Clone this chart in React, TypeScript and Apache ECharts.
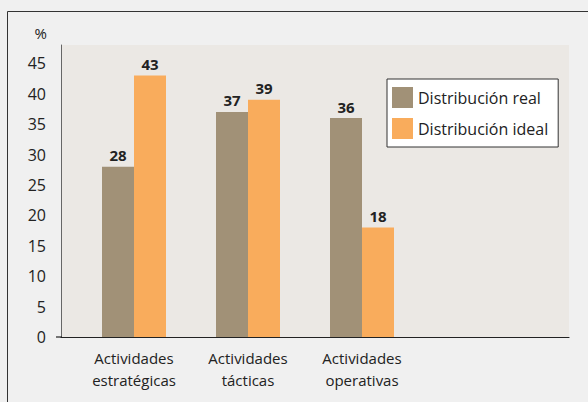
import React, { useEffect, useRef } from "react";
import * as echarts from "echarts";

const categories = ["Actividades\nestratégicas", "Actividades\ntácticas", "Actividades\noperativas"];
const seriesNames = ["Distribución real", "Distribución ideal"];
const realValues = [28, 37, 36];
const idealValues = [43, 39, 18];
const yMin = 0;
const yMax = 48;
const yInterval = 5;

const FONT = "Open Sans";

export default function App() {
  const ref = useRef<HTMLDivElement>(null);
  useEffect(() => {
    if (!ref.current) return;
    const chart = echarts.init(ref.current, undefined, { renderer: "svg" });
    const gridTop = 45;
    const gridBottom = 65;
    chart.setOption({
      animation: false,
      backgroundColor: "#f0f0f0",
      textStyle: { fontFamily: FONT },
      graphic: [
        {
          type: "rect",
          shape: { x: 7.5, y: 11.5, width: 620, height: 420 },
          style: { fill: "none", stroke: "#333", lineWidth: 1 },
          silent: true,
          z: 0,
        },
        {
          type: "line",
          shape: { x1: 56, y1: 337, x2: 62, y2: 337 },
          style: { stroke: "#222", lineWidth: 1.2 },
          silent: true,
          z: 10,
        },
      ],
      grid: [
        {
          left: 61,
          right: 19,
          top: gridTop,
          bottom: gridBottom,
          show: true,
          backgroundColor: "#ebe8e4",
          borderWidth: 0,
        },
        {
          left: 77,
          width: 342,
          top: gridTop,
          bottom: gridBottom,
        },
      ],
      xAxis: [
        {
          gridIndex: 0,
          type: "value",
          min: 0,
          max: 1,
          axisLine: { show: true, lineStyle: { color: "#222", width: 1.2 } },
          axisTick: { show: false },
          axisLabel: { show: false },
          splitLine: { show: false },
        },
        {
          gridIndex: 1,
          type: "category",
          data: categories,
          axisLine: { show: false },
          axisTick: { show: false },
          axisLabel: {
            margin: 10,
            color: "#222",
            fontSize: 15,
            lineHeight: 22,
            fontFamily: FONT,
          },
        },
      ],
      yAxis: [
        {
          gridIndex: 0,
          type: "value",
          min: yMin,
          max: yMax,
          interval: yInterval,
          name: "%",
          nameLocation: "end",
          nameGap: 5,
          nameTextStyle: { color: "#222", fontSize: 15, align: "right", padding: [0, 14, 0, 0], fontFamily: FONT },
          axisLine: { show: true, lineStyle: { color: "#666", width: 1 } },
          axisTick: { show: false },
          axisLabel: { color: "#222", fontSize: 16, margin: 15, showMaxLabel: false, fontFamily: FONT },
          splitLine: { show: false },
        },
        {
          gridIndex: 1,
          type: "value",
          min: yMin,
          max: yMax,
          show: false,
        },
      ],
      legend: {
        orient: "vertical",
        left: 387,
        top: 79,
        data: seriesNames,
        itemWidth: 21,
        itemHeight: 21,
        itemGap: 10,
        icon: "rect",
        backgroundColor: "#ffffff",
        borderColor: "#333",
        borderWidth: 1,
        borderRadius: 0,
        padding: [8, 10, 8, 5],
        textStyle: { color: "#222", fontSize: 16, fontFamily: FONT },
      },
      series: [
        {
          name: seriesNames[0],
          type: "bar",
          xAxisIndex: 1,
          yAxisIndex: 1,
          data: realValues,
          barWidth: 32,
          barGap: "0%",
          itemStyle: { color: "#a19177" },
          label: { show: true, position: "top", distance: 4, color: "#222", fontWeight: "bold", fontSize: 15, fontFamily: FONT },
        },
        {
          name: seriesNames[1],
          type: "bar",
          xAxisIndex: 1,
          yAxisIndex: 1,
          data: idealValues,
          barWidth: 32,
          barGap: "0%",
          itemStyle: { color: "#f9ac5c" },
          label: { show: true, position: "top", distance: 4, color: "#222", fontWeight: "bold", fontSize: 15, fontFamily: FONT },
        },
      ],
    });
    return () => chart.dispose();
  }, []);
  return <div ref={ref} style={{ position: "fixed", left: 0, top: 0, width: 588, height: 402 }} />;
}
